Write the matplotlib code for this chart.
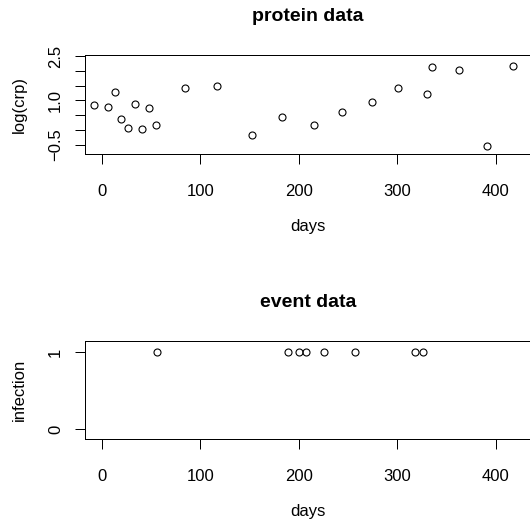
import matplotlib
matplotlib.use("Agg")
import matplotlib.pyplot as plt

plt.rcParams["font.family"] = ["Liberation Sans", "DejaVu Sans"]

# protein data: day of measurement and log(crp)
protein_days = [-8, 6, 13, 20, 27, 34, 41, 48, 55, 85, 117, 153, 183,
                216, 244, 274, 301, 330, 335, 363, 391, 418]
protein_logcrp = [0.83, 0.77, 1.27, 0.38, 0.08, 0.87, 0.02, 0.74, 0.15, 1.42,
                  1.48, -0.17, 0.44, 0.17, 0.59, 0.93, 1.41, 1.22, 2.13, 2.01,
                  -0.53, 2.15]

# event data: infection days
event_days = [56, 189, 200, 207, 226, 257, 318, 326]
event_infection = [1, 1, 1, 1, 1, 1, 1, 1]

x_ticks = [0, 100, 200, 300, 400]
crp_ticks = [-0.5, 0.0, 0.5, 1.0, 1.5, 2.0, 2.5]
crp_labels = ["\u22120.5", "", "", "1.0", "", "", "2.5"]
inf_ticks = [0, 1]
inf_labels = ["0", "1"]

px = 0.72  # points per pixel at dpi 100


def r_style(ax, title, ylabel, yticks, ylabels, ylim):
    ax.set_xlim(-17, 436.5)
    ax.set_ylim(*ylim)
    ax.set_xticks(x_ticks)
    ax.set_xticklabels([str(t) for t in x_ticks])
    ax.set_yticks(yticks)
    ax.set_yticklabels(ylabels)
    for s in ax.spines.values():
        s.set_linewidth(1.0 * px)
    ax.tick_params(axis="both", length=10 * px, width=1.0 * px, labelsize=12)
    ax.tick_params(axis="x", pad=20 * px)
    ax.tick_params(axis="y", pad=12 * px, labelrotation=90)
    for lab in ax.get_yticklabels():
        lab.set_va("center")
    ax.annotate(title, xy=(0.5, 1), xycoords="axes fraction",
                xytext=(0, 34 * px), textcoords="offset points",
                ha="center", va="baseline", fontsize=14, fontweight="bold")
    ax.annotate("days", xy=(0.5, 0), xycoords="axes fraction",
                xytext=(0, -72 * px), textcoords="offset points",
                ha="center", va="center", fontsize=12)
    ax.annotate(ylabel, xy=(0, 0.5), xycoords="axes fraction",
                xytext=(-66 * px, 0), textcoords="offset points",
                ha="center", va="center", rotation=90, fontsize=12)


fig = plt.figure(figsize=(5.3, 5.2), dpi=100)
W, H = 530, 520
left = 85 / W
width = (531.5 - 85) / W

ax1 = fig.add_axes([left, (H - 154.3) / H, width, 99.3 / H])
ax1.plot(protein_days, protein_logcrp, "o", mfc="none", mec="black",
         ms=7 * px, mew=1.1 * px, clip_on=False)
r_style(ax1, "protein data", "log(crp)", crp_ticks, crp_labels,
        (-0.5 - 9.6 / 29.45, 2.5 + 1 / 29.45))

ax2 = fig.add_axes([left, (H - 439.3) / H, width, 98.3 / H])
ax2.plot(event_days, event_infection, "o", mfc="none", mec="black",
         ms=7 * px, mew=1.1 * px, clip_on=False)
r_style(ax2, "event data", "infection", inf_ticks, inf_labels,
        (-10.3 / 76.7, 1 + 11.3 / 76.7))

fig.savefig("out.png", dpi=100)
